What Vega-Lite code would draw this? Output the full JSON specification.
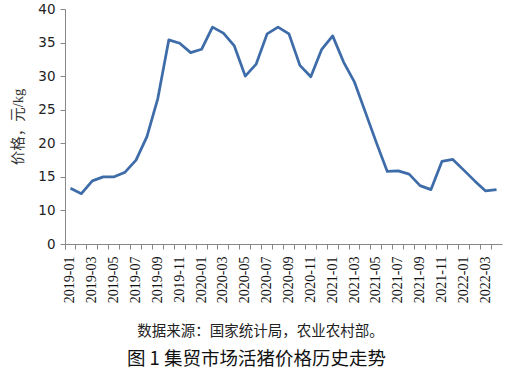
{
  "$schema": "https://vega.github.io/schema/vega-lite/v6.json",
  "width": 437,
  "height": 235,
  "autosize": "none",
  "padding": {"left": 65, "top": 9, "right": 15, "bottom": 135},
  "background": "white",
  "config": {"view": {"stroke": null}},
  "title": {
    "text": "图 1 集贸市场活猪价格历史走势",
    "orient": "bottom",
    "anchor": "middle",
    "frame": "group",
    "dx": -27,
    "offset": 12,
    "font": "Noto Sans CJK SC",
    "fontSize": 18.5,
    "fontWeight": "normal",
    "color": "#111"
  },
  "data": {
    "values": [
      {"month": "2019-01", "price": 13.3},
      {"month": "2019-02", "price": 12.5},
      {"month": "2019-03", "price": 14.4},
      {"month": "2019-04", "price": 15.0},
      {"month": "2019-05", "price": 15.0},
      {"month": "2019-06", "price": 15.7},
      {"month": "2019-07", "price": 17.5},
      {"month": "2019-08", "price": 21.0},
      {"month": "2019-09", "price": 26.7},
      {"month": "2019-10", "price": 35.4},
      {"month": "2019-11", "price": 34.9},
      {"month": "2019-12", "price": 33.5},
      {"month": "2020-01", "price": 34.0},
      {"month": "2020-02", "price": 37.3},
      {"month": "2020-03", "price": 36.4},
      {"month": "2020-04", "price": 34.5},
      {"month": "2020-05", "price": 30.0},
      {"month": "2020-06", "price": 31.8},
      {"month": "2020-07", "price": 36.3},
      {"month": "2020-08", "price": 37.3},
      {"month": "2020-09", "price": 36.3},
      {"month": "2020-10", "price": 31.6},
      {"month": "2020-11", "price": 29.9},
      {"month": "2020-12", "price": 34.0},
      {"month": "2021-01", "price": 36.0},
      {"month": "2021-02", "price": 32.1},
      {"month": "2021-03", "price": 29.1},
      {"month": "2021-04", "price": 24.6},
      {"month": "2021-05", "price": 20.1},
      {"month": "2021-06", "price": 15.8},
      {"month": "2021-07", "price": 15.9},
      {"month": "2021-08", "price": 15.4},
      {"month": "2021-09", "price": 13.7},
      {"month": "2021-10", "price": 13.1},
      {"month": "2021-11", "price": 17.3},
      {"month": "2021-12", "price": 17.6},
      {"month": "2022-01", "price": 16.0},
      {"month": "2022-02", "price": 14.4},
      {"month": "2022-03", "price": 12.9},
      {"month": "2022-04", "price": 13.1}
    ]
  },
  "encoding": {
    "y": {
      "field": "price",
      "type": "quantitative",
      "scale": {"domain": [5, 40], "nice": false, "zero": false},
      "axis": {
        "title": "价格，元/kg",
        "titleFont": "Liberation Serif, Noto Sans CJK SC",
        "titleFontSize": 14.5,
        "titleFontWeight": "normal",
        "titleColor": "#333",
        "titlePadding": 12,
        "values": [5, 10, 15, 20, 25, 30, 35, 40],
        "labelExpr": "datum.value == 5 ? '0' : datum.label",
        "labelFont": "DejaVu Sans",
        "labelFontSize": 13.5,
        "labelColor": "#222",
        "labelPadding": 5,
        "labelOverlap": false,
        "tickSize": 5,
        "tickColor": "#888",
        "domainColor": "#888",
        "grid": false
      }
    }
  },
  "resolve": {"axis": {"x": "independent"}},
  "layer": [
    {
      "mark": {"type": "line", "strokeOpacity": 0},
      "encoding": {
        "x": {
          "field": "month",
          "type": "ordinal",
          "sort": null,
          "scale": {"type": "band", "paddingInner": 0, "paddingOuter": 0},
          "axis": {
            "orient": "bottom",
            "title": null,
            "labels": false,
            "domain": false,
            "bandPosition": 0,
            "tickExtra": true,
            "tickSize": 5,
            "tickColor": "#888",
            "grid": false
          }
        }
      }
    },
    {
      "mark": {"type": "line", "color": "#3e6ca9", "strokeWidth": 2.75, "strokeJoin": "round"},
      "encoding": {
        "x": {
          "field": "month",
          "type": "ordinal",
          "sort": null,
          "scale": {"type": "band", "paddingInner": 0, "paddingOuter": 0},
          "axis": {
            "orient": "bottom",
            "title": "数据来源：国家统计局，农业农村部。",
            "titleFont": "Liberation Serif, Noto Sans CJK SC",
            "titleFontSize": 14.5,
            "titleFontWeight": "normal",
            "titleColor": "#222",
            "titleX": 195,
            "titleY": 80,
            "titleAlign": "center",
            "labelAngle": 270,
            "labelFont": "Liberation Serif",
            "labelFontSize": 14,
            "labelColor": "#111",
            "labelPadding": 12,
            "labelExpr": "parseInt(slice(datum.value, 5)) % 2 == 1 ? datum.value : ''",
            "labelOverlap": false,
            "ticks": false,
            "domainColor": "#888",
            "grid": false
          }
        }
      }
    }
  ]
}
